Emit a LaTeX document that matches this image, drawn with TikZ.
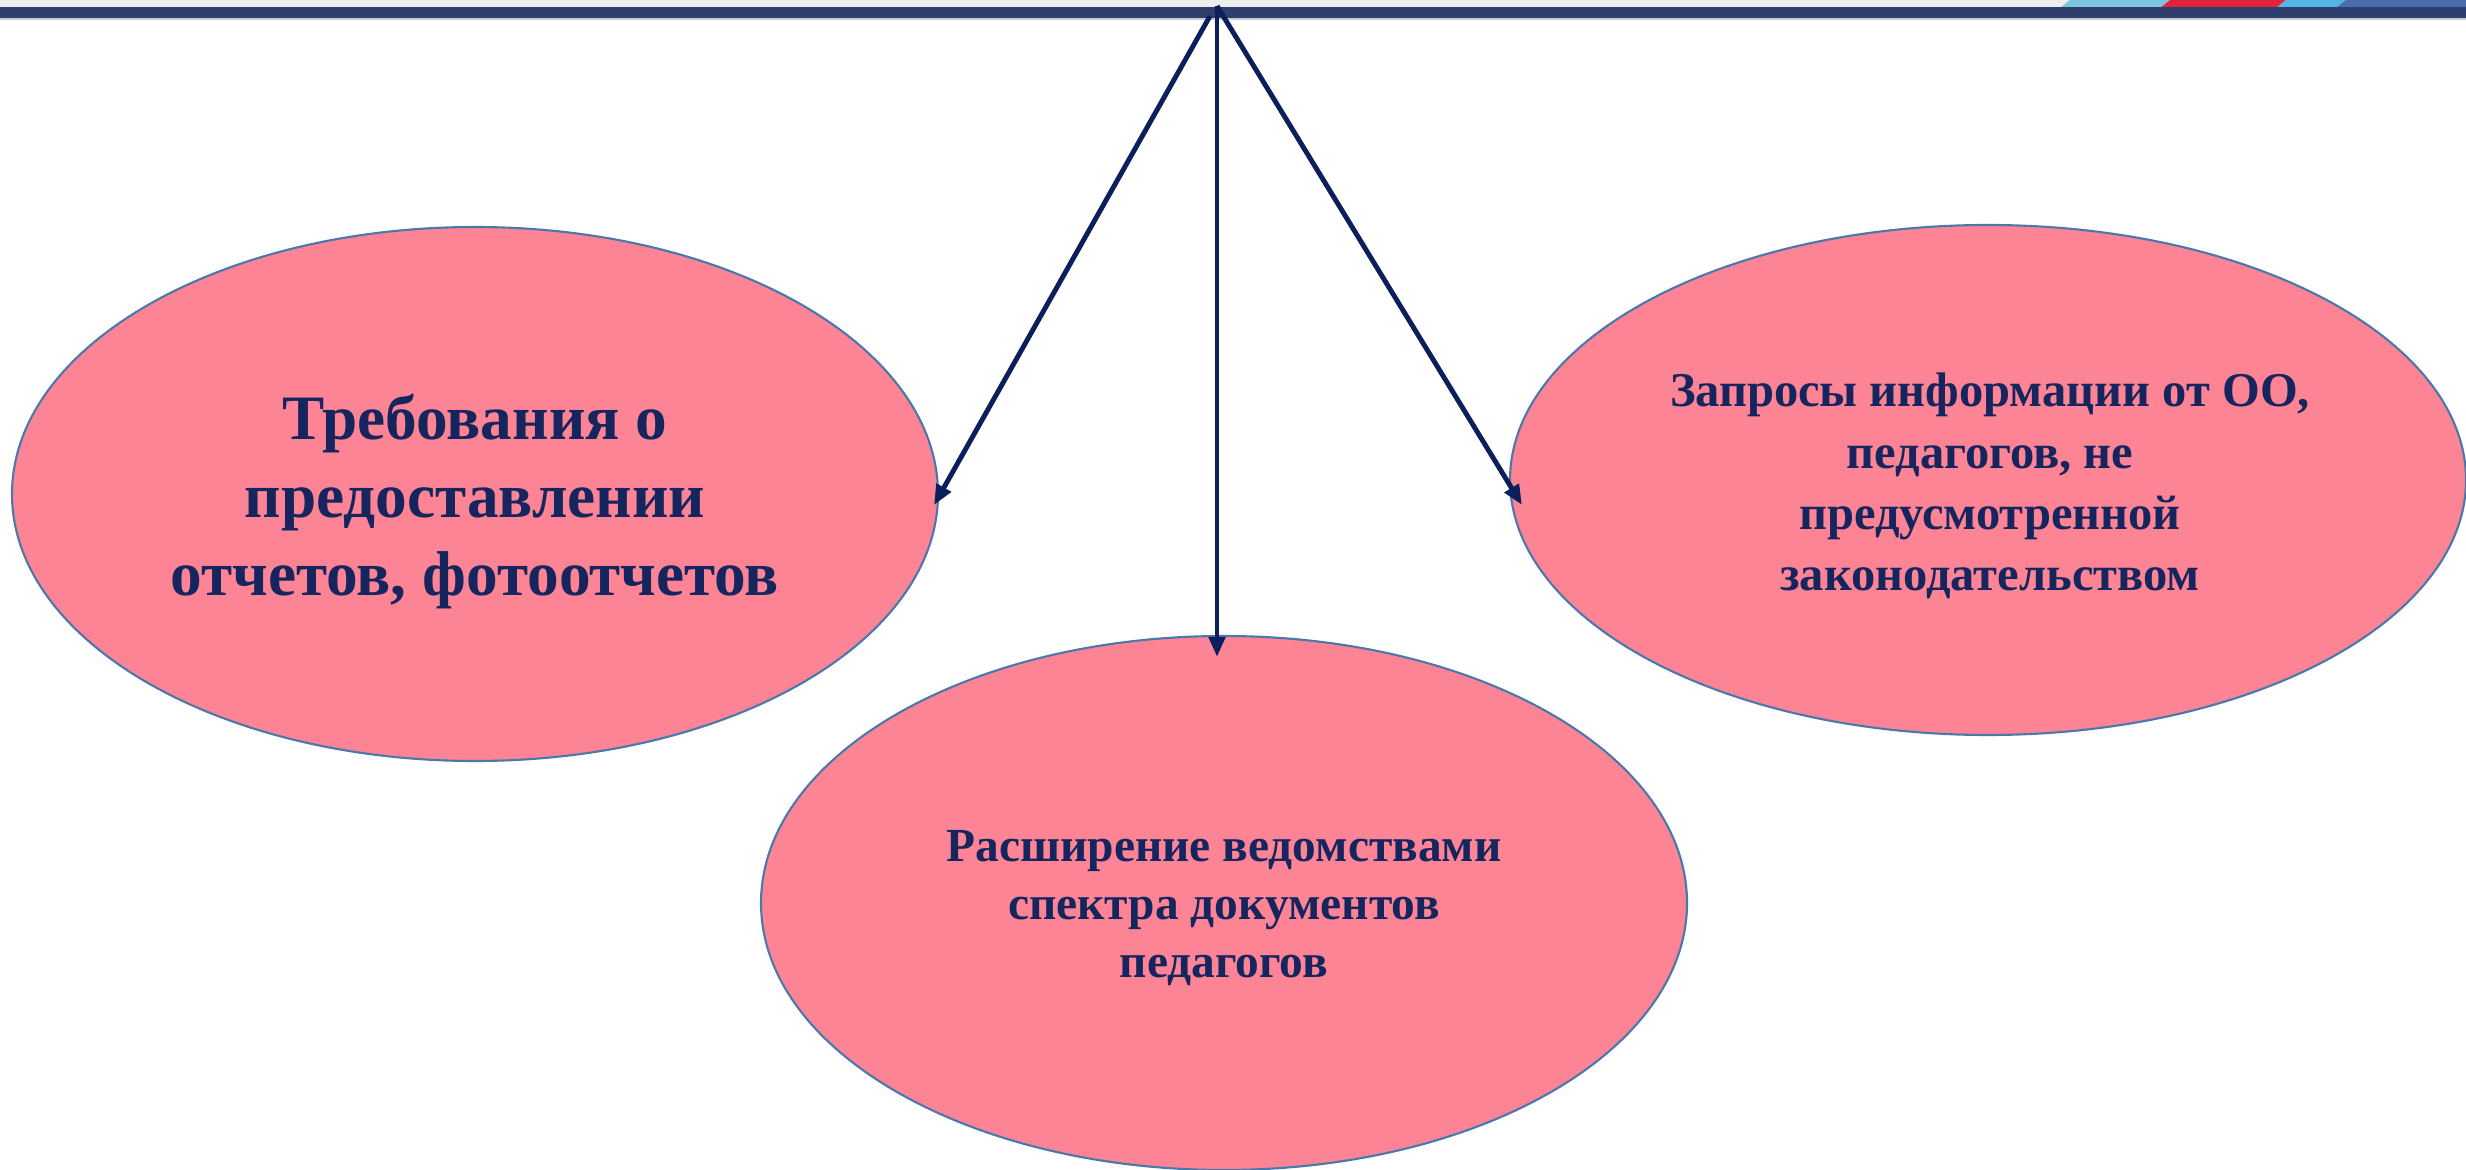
\documentclass[tikz,border=0pt]{standalone}
\usepackage{fontspec}
\setmainfont{Liberation Serif}
\usetikzlibrary{shapes.geometric,arrows.meta}
\definecolor{pinkfill}{HTML}{FC8494}
\definecolor{edgeblue}{HTML}{4A78AA}
\definecolor{txtnavy}{HTML}{16255E}
\definecolor{arrnavy}{HTML}{0A1F5C}
\definecolor{barnavy}{HTML}{2E3F6E}
\definecolor{topgray}{HTML}{EDEDEC}
\definecolor{stripeA}{HTML}{7CC6E0}
\definecolor{stripeR}{HTML}{E2223A}
\definecolor{stripeB}{HTML}{55B4E2}
\definecolor{stripeC}{HTML}{4A6DAE}
\tikzset{
  oval/.style={ellipse, draw=edgeblue, line width=0.6pt, fill=pinkfill, inner sep=0pt},
  ovaltext/.style={text=txtnavy, align=center, inner sep=0pt},
  arr/.style={draw=arrnavy, line width=1.4pt, -{Triangle[length=2mm,width=1.6mm]}}
}
\begin{document}
\begin{tikzpicture}
\useasboundingbox (0,0) rectangle (24.66,-11.70);
\fill[white] (0,0) rectangle (24.66,-11.70);
% top band
\fill[topgray] (0,0) rectangle (24.66,-0.08);
\fill[stripeA] (20.60,-0.08) -- (20.70,0) -- (21.70,0) -- (21.60,-0.08) -- cycle;
\fill[stripeR] (21.60,-0.08) -- (21.70,0) -- (22.86,0) -- (22.76,-0.08) -- cycle;
\fill[stripeB] (22.76,-0.08) -- (22.86,0) -- (23.46,0) -- (23.36,-0.08) -- cycle;
\fill[stripeC] (23.36,-0.08) -- (23.46,0) -- (24.66,0) -- (24.66,-0.08) -- cycle;
\fill[barnavy] (0,-0.07) rectangle (24.66,-0.18);
\fill[black!25!edgeblue!30] (0,-0.18) rectangle (24.66,-0.205);

\node[oval, minimum width=9.26cm, minimum height=5.34cm] (left) at (4.75,-4.94) {};
\node[oval, minimum width=9.26cm, minimum height=5.34cm] (bottom) at (12.24,-9.03) {};
\node[oval, minimum width=9.56cm, minimum height=5.10cm] (right) at (19.88,-4.80) {};

\node[ovaltext, font=\bfseries\fontsize{18}{22.2}\selectfont] (leftT) at (4.75,-5.02)
  {Требования о\\предоставлении\\отчетов, фотоотчетов};
\node[ovaltext, font=\bfseries\fontsize{13.5}{16.5}\selectfont] (bottomT) at (12.24,-9.08)
  {Расширение ведомствами\\спектра документов\\педагогов};
\node[ovaltext, font=\bfseries\fontsize{13.8}{17.4}\selectfont] (rightT) at (19.90,-4.86)
  {Запросы информации от ОО,\\педагогов, не\\предусмотренной\\законодательством};

\coordinate (apex) at (12.17,-0.06);
\coordinate (apexL) at (12.10,-0.16);
\draw[arr] (apexL) -- ([xshift=-0.05cm,yshift=-0.11cm]left.east);
\draw[arr] (apex) -- ([yshift=-0.22cm]apex |- bottom.north);
\draw[arr] (apex) -- ([xshift=0.13cm,yshift=-0.25cm]right.west);
\end{tikzpicture}
\end{document}
